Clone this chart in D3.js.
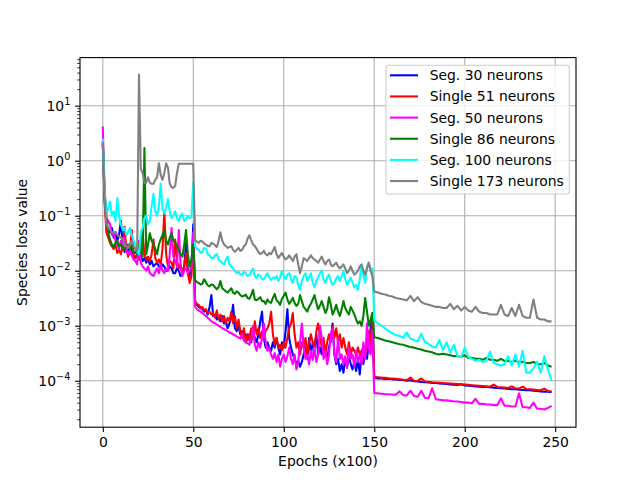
<!DOCTYPE html>
<html>
<head>
<meta charset="utf-8">
<script src="https://cdnjs.cloudflare.com/ajax/libs/d3/7.8.5/d3.min.js"></script>
<style>
  body { margin: 0; background: #fff; }
  svg { font-family: 'DejaVu Sans', sans-serif; }
</style>
</head>
<body>
<svg id="chart" width="640" height="480"></svg>
<script>

// epochs (x100): every epoch up to 149, every second one afterwards
const epochs = [
  0, 1, 2, 3, 4, 5, 6, 7, 8, 9, 10, 11, 12, 13, 14, 15, 16, 17, 18, 19,
  20, 21, 22, 23, 24, 25, 26, 27, 28, 29, 30, 31, 32, 33, 34, 35, 36, 37, 38, 39,
  40, 41, 42, 43, 44, 45, 46, 47, 48, 49, 50,
  51, 52, 53, 54, 55, 56, 57, 58, 59, 60, 61, 62, 63, 64, 65, 66, 67, 68, 69, 70,
  71, 72, 73, 74, 75, 76, 77, 78, 79, 80, 81, 82, 83, 84, 85, 86, 87, 88, 89, 90,
  91, 92, 93, 94, 95, 96, 97, 98, 99, 100, 101, 102, 103, 104, 105, 106, 107, 108, 109, 110,
  111, 112, 113, 114, 115, 116, 117, 118, 119, 120, 121, 122, 123, 124, 125, 126, 127, 128, 129, 130,
  131, 132, 133, 134, 135, 136, 137, 138, 139, 140, 141, 142, 143, 144, 145, 146, 147, 148, 149,
  150, 152, 154, 156, 158, 160, 162, 164, 166, 168, 170, 172, 174, 176, 178, 180, 182, 184, 186, 188,
  190, 192, 194, 196, 198, 200, 202, 204, 206, 208, 210, 212, 214, 216, 218, 220, 222, 224, 226, 228,
  230, 232, 234, 236, 238, 240, 242, 244, 246, 248
];

const seg30 = [
  2.0, 0.2, 0.07, 0.055, 0.05, 0.06, 0.04, 0.05, 0.035, 0.045,
  0.08, 0.03, 0.022, 0.025, 0.02, 0.03, 0.024, 0.019, 0.017, 0.02,
  0.016, 0.018, 0.015, 0.017, 0.014, 0.016, 0.013, 0.015, 0.012, 0.013,
  0.014, 0.012, 0.011, 0.013, 0.012, 0.01, 0.01, 0.012, 0.011, 0.009,
  0.009, 0.011, 0.01, 0.008, 0.009, 0.012, 0.032, 0.01, 0.008, 0.012,
  0.07,
  2.6e-3, 2.4e-3, 2.2e-3, 2.1e-3, 2.0e-3, 1.8e-3, 1.9e-3, 1.6e-3, 2.2e-3, 3.6e-3,
  1.5e-3, 1.6e-3, 1.3e-3, 1.4e-3, 1.2e-3, 1.5e-3, 1.1e-3, 1.2e-3, 9e-4, 1.1e-3,
  1.4e-3, 2.4e-3, 9e-4, 8e-4, 1.0e-3, 7e-4, 8e-4, 6e-4, 7e-4, 5.5e-4,
  7e-4, 5e-4, 8e-4, 6e-4, 5e-4, 7e-4, 1.2e-3, 1.8e-3, 6e-4, 4e-4,
  5e-4, 4e-4, 3.5e-4, 5e-4, 4e-4, 6e-4, 4e-4, 3e-4, 5e-4, 4e-4,
  8e-4, 2.0e-3, 6e-4, 4e-4, 3e-4, 2.5e-4, 2.0e-4, 2.3e-4, 1.8e-4, 2.2e-4,
  3e-4, 4e-4, 2.5e-4, 6e-4, 3e-4, 5e-4, 4e-4, 7e-4, 3e-4, 4e-4,
  3e-4, 5e-4, 3e-4, 2.5e-4, 4e-4, 6e-4, 1.1e-3, 3e-4, 2e-4, 2.5e-4,
  1.5e-4, 2e-4, 1.4e-4, 2.5e-4, 1.8e-4, 3e-4, 2e-4, 1.6e-4, 2.2e-4, 1.5e-4,
  2.5e-4, 1.3e-4, 3e-4, 2e-4, 3.5e-4, 2.5e-4, 5e-4, 9e-4, 1.7e-3,
  1.12e-4, 1.1e-4, 1.1e-4, 1.08e-4, 1.09e-4, 1.06e-4, 1.05e-4, 1.03e-4, 1.04e-4, 1.0e-4,
  1.02e-4, 9.8e-5, 9.7e-5, 9.5e-5, 9.4e-5, 9.3e-5, 9.1e-5, 9.1e-5, 8.9e-5, 8.8e-5,
  8.7e-5, 8.6e-5, 8.5e-5, 8.4e-5, 8.6e-5, 8.2e-5, 8.1e-5, 8.0e-5, 7.9e-5, 7.8e-5,
  7.7e-5, 7.7e-5, 7.6e-5, 7.5e-5, 7.4e-5, 7.3e-5, 7.2e-5, 7.1e-5, 7.0e-5, 7.0e-5,
  6.9e-5, 6.8e-5, 6.7e-5, 6.7e-5, 6.6e-5, 6.5e-5, 6.4e-5, 6.3e-5, 6.3e-5, 6.2e-5
];

const single51 = [
  2.0, 0.18, 0.05, 0.04, 0.032, 0.028, 0.025, 0.03, 0.021, 0.024,
  0.02, 0.028, 0.063, 0.025, 0.018, 0.022, 0.055, 0.02, 0.017, 0.019,
  0.016, 0.022, 0.048, 0.02, 0.016, 0.018, 0.015, 0.02, 0.037, 0.017,
  0.014, 0.016, 0.013, 0.025, 0.12, 0.02, 0.012, 0.015, 0.014, 0.011,
  0.037, 0.015, 0.011, 0.013, 0.009, 0.012, 0.021, 0.009, 0.006, 0.008,
  0.04,
  2.8e-3, 2.5e-3, 2.4e-3, 2.1e-3, 2.2e-3, 1.9e-3, 2.0e-3, 1.7e-3, 1.8e-3, 1.6e-3,
  1.7e-3, 1.4e-3, 1.9e-3, 1.3e-3, 1.6e-3, 1.2e-3, 1.5e-3, 1.1e-3, 1.4e-3, 1.2e-3,
  1.8e-3, 1.1e-3, 1.5e-3, 9e-4, 1.3e-3, 8e-4, 6e-4, 9e-4, 5e-4, 7e-4,
  5.5e-4, 9e-4, 6e-4, 1.2e-3, 7e-4, 9e-4, 6e-4, 8e-4, 6e-4, 8e-4,
  9e-4, 1.1e-3, 1.8e-3, 7e-4, 4.5e-4, 6e-4, 4e-4, 4.5e-4, 3.6e-4, 5e-4,
  4e-4, 6e-4, 9e-4, 1.1e-3, 1.7e-3, 7e-4, 4e-4, 5e-4, 3e-4, 5e-4,
  4e-4, 6e-4, 3e-4, 5e-4, 7e-4, 5e-4, 4e-4, 8e-4, 1.1e-3, 6e-4,
  4e-4, 6e-4, 3e-4, 5e-4, 7e-4, 5e-4, 1.0e-3, 6e-4, 9e-4, 5e-4,
  7e-4, 4e-4, 6e-4, 4e-4, 3e-4, 5e-4, 3e-4, 4e-4, 3.5e-4, 3e-4,
  4e-4, 3e-4, 3.5e-4, 4e-4, 3e-4, 5e-4, 8e-4, 4e-4, 1.6e-3,
  1.18e-4, 1.16e-4, 1.14e-4, 1.13e-4, 1.11e-4, 1.1e-4, 1.08e-4, 1.06e-4, 1.04e-4, 1.03e-4,
  1.14e-4, 1.0e-4, 9.9e-5, 1.1e-4, 9.7e-5, 9.6e-5, 9.4e-5, 9.3e-5, 9.2e-5, 9.1e-5,
  9.0e-5, 8.9e-5, 8.8e-5, 8.7e-5, 8.6e-5, 8.5e-5, 8.4e-5, 8.3e-5, 8.2e-5, 8.1e-5,
  8.0e-5, 7.9e-5, 7.8e-5, 8.5e-5, 7.7e-5, 7.6e-5, 7.5e-5, 7.4e-5, 7.9e-5, 7.3e-5,
  7.2e-5, 7.8e-5, 7.1e-5, 7.0e-5, 6.9e-5, 6.8e-5, 6.7e-5, 7.2e-5, 6.5e-5, 6.4e-5
];

const seg50 = [
  4.2, 0.3, 0.09, 0.08, 0.07, 0.045, 0.05, 0.035, 0.03, 0.025,
  0.035, 0.028, 0.04, 0.022, 0.02, 0.024, 0.019, 0.016, 0.015, 0.013,
  0.035, 0.014, 0.012, 0.011, 0.01, 0.012, 0.009, 0.0085, 0.008, 0.0095,
  0.011, 0.009, 0.013, 0.01, 0.009, 0.011, 0.01, 0.02, 0.06, 0.018,
  0.015, 0.012, 0.055, 0.012, 0.008, 0.01, 0.011, 0.009, 0.01, 0.012,
  0.05,
  2.2e-3, 2.0e-3, 1.9e-3, 1.8e-3, 1.7e-3, 1.6e-3, 1.5e-3, 1.4e-3, 1.3e-3, 1.2e-3,
  1.15e-3, 1.1e-3, 1.05e-3, 1.0e-3, 9.5e-4, 9e-4, 8.7e-4, 8.3e-4, 8e-4, 7.6e-4,
  7.3e-4, 7e-4, 6.7e-4, 6.4e-4, 6.1e-4, 5.8e-4, 7e-4, 5.3e-4, 5e-4, 4.8e-4,
  4.5e-4, 6e-4, 1.0e-3, 4.5e-4, 3.5e-4, 5e-4, 4e-4, 6e-4, 1.1e-3, 5e-4,
  3.5e-4, 4e-4, 3e-4, 2.5e-4, 3.2e-4, 2.2e-4, 3e-4, 1.8e-4, 2.5e-4, 3e-4,
  2.2e-4, 2.8e-4, 4e-4, 2.5e-4, 2e-4, 3e-4, 1.6e-4, 2.2e-4, 5e-4, 1.1e-3,
  4e-4, 2.5e-4, 3e-4, 2e-4, 3.5e-4, 2.4e-4, 4e-4, 2.2e-4, 3e-4, 1.0e-3,
  6e-4, 2.5e-4, 3.5e-4, 2e-4, 3e-4, 7e-4, 9e-4, 3e-4, 2.2e-4, 6e-4,
  2.5e-4, 3e-4, 2e-4, 2.8e-4, 1.7e-4, 4e-4, 2.5e-4, 3e-4, 1.8e-4, 3.5e-4,
  2.2e-4, 3e-4, 2e-4, 5e-4, 2.5e-4, 1.1e-3, 4e-4, 3e-4, 8e-4,
  6.0e-5, 5.9e-5, 5.8e-5, 5.7e-5, 5.7e-5, 5.6e-5, 5.6e-5, 6.4e-5, 5.5e-5, 5.4e-5,
  6.6e-5, 5.3e-5, 5.1e-5, 6.6e-5, 4.9e-5, 4.8e-5, 7.3e-5, 4.6e-5, 4.5e-5, 4.4e-5,
  4.4e-5, 4.3e-5, 4.2e-5, 4.2e-5, 4.1e-5, 4.0e-5, 4.0e-5, 3.9e-5, 4.7e-5, 3.8e-5,
  3.8e-5, 3.7e-5, 3.7e-5, 3.6e-5, 3.6e-5, 4.8e-5, 3.5e-5, 3.5e-5, 3.4e-5, 3.4e-5,
  5.9e-5, 3.3e-5, 3.3e-5, 3.2e-5, 4.0e-5, 3.1e-5, 3.1e-5, 3.0e-5, 3.2e-5, 3.5e-5
];

const single86 = [
  2.3, 0.25, 0.09, 0.05, 0.037, 0.03, 0.027, 0.032, 0.035, 0.028,
  0.03, 0.026, 0.024, 0.028, 0.03, 0.025, 0.028, 0.022, 0.021, 0.025,
  0.031, 0.022, 0.018, 1.7, 0.02, 0.03, 0.048, 0.035, 0.03, 0.025,
  0.02, 0.03, 0.037, 0.045, 0.055, 0.035, 0.03, 0.04, 0.048, 0.035,
  0.033, 0.028, 0.024, 0.02, 0.018, 0.03, 0.055, 0.02, 0.012, 0.016,
  0.03,
  6.8e-3, 6.2e-3, 6.0e-3, 5.6e-3, 5.8e-3, 7.0e-3, 6.2e-3, 5.4e-3, 5.2e-3, 5.6e-3,
  5.5e-3, 5.0e-3, 4.6e-3, 5.0e-3, 6.5e-3, 4.8e-3, 4.5e-3, 4.2e-3, 4.0e-3, 4.4e-3,
  4.8e-3, 4.0e-3, 3.8e-3, 4.2e-3, 4.0e-3, 3.6e-3, 3.4e-3, 3.5e-3, 3.7e-3, 3.2e-3,
  3.1e-3, 3.6e-3, 4.5e-3, 3.0e-3, 2.9e-3, 3.1e-3, 3.3e-3, 2.8e-3, 2.8e-3, 2.5e-3,
  3.0e-3, 2.7e-3, 2.6e-3, 3.2e-3, 3.8e-3, 2.9e-3, 2.7e-3, 2.4e-3, 3.1e-3, 3.5e-3,
  4.0e-3, 3.0e-3, 2.5e-3, 2.8e-3, 3.2e-3, 2.6e-3, 2.3e-3, 2.5e-3, 3.6e-3, 2.8e-3,
  2.2e-3, 2.0e-3, 1.8e-3, 2.2e-3, 2.5e-3, 3.0e-3, 3.6e-3, 2.6e-3, 2.0e-3, 2.3e-3,
  2.8e-3, 2.2e-3, 1.7e-3, 2.0e-3, 3.3e-3, 2.4e-3, 1.6e-3, 1.9e-3, 2.4e-3, 1.8e-3,
  1.5e-3, 2.0e-3, 2.8e-3, 2.1e-3, 1.8e-3, 1.6e-3, 2.2e-3, 1.9e-3, 1.6e-3, 1.3e-3,
  1.1e-3, 1.2e-3, 1.0e-3, 1.5e-3, 3.2e-3, 1.8e-3, 1.0e-3, 1.3e-3, 1.7e-3,
  6.2e-4, 6.0e-4, 5.7e-4, 5.4e-4, 5.2e-4, 5.0e-4, 4.8e-4, 4.6e-4, 4.5e-4, 4.3e-4,
  4.1e-4, 4.0e-4, 3.8e-4, 3.7e-4, 3.5e-4, 3.4e-4, 3.3e-4, 3.1e-4, 3.0e-4, 3.1e-4,
  3.0e-4, 2.9e-4, 2.8e-4, 2.8e-4, 2.7e-4, 2.9e-4, 2.6e-4, 2.6e-4, 2.5e-4, 2.5e-4,
  2.4e-4, 2.6e-4, 2.4e-4, 2.4e-4, 2.3e-4, 2.5e-4, 2.3e-4, 2.3e-4, 2.2e-4, 2.3e-4,
  2.2e-4, 2.2e-4, 2.1e-4, 2.1e-4, 2.2e-4, 2.0e-4, 2.0e-4, 2.1e-4, 1.9e-4, 1.8e-4
];

const seg100 = [
  2.5, 0.3, 0.1, 0.14, 0.18, 0.1, 0.12, 0.08, 0.21, 0.1,
  0.07, 0.055, 0.06, 0.045, 0.05, 0.06, 0.045, 0.035, 0.03, 0.025,
  0.02, 0.05, 0.06, 0.09, 0.1, 0.07, 0.08, 0.15, 0.25, 0.12,
  0.1, 0.15, 0.38, 0.13, 0.11, 0.14, 0.2, 0.12, 0.09, 0.1,
  0.12, 0.09, 0.08, 0.1, 0.11, 0.08, 0.085, 0.1, 0.09, 0.095,
  0.4,
  0.028, 0.025, 0.024, 0.021, 0.022, 0.026, 0.025, 0.02, 0.019, 0.017,
  0.017, 0.019, 0.02, 0.016, 0.015, 0.014, 0.013, 0.016, 0.018, 0.013,
  0.012, 0.011, 0.01, 9e-3, 9.5e-3, 8.5e-3, 8.5e-3, 9.5e-3, 9e-3, 8e-3,
  8.3e-3, 9.5e-3, 0.011, 8e-3, 7.5e-3, 8.5e-3, 8e-3, 7e-3, 7e-3, 8e-3,
  9e-3, 7.5e-3, 6.8e-3, 7.5e-3, 7.2e-3, 8e-3, 6.5e-3, 7.5e-3, 0.01, 8e-3,
  7e-3, 8.5e-3, 9e-3, 7e-3, 6e-3, 8e-3, 7.5e-3, 5.5e-3, 4.5e-3, 6.5e-3,
  8e-3, 9e-3, 6.5e-3, 7.5e-3, 9e-3, 6e-3, 5e-3, 6.5e-3, 7.5e-3, 9e-3,
  0.01, 7e-3, 6e-3, 7.5e-3, 8.5e-3, 6.5e-3, 5.5e-3, 6e-3, 7.2e-3, 8e-3,
  6.5e-3, 8e-3, 0.01, 7e-3, 5.5e-3, 6.5e-3, 7.5e-3, 6e-3, 5e-3, 5.5e-3,
  4.5e-3, 7e-3, 0.013, 8e-3, 6e-3, 0.012, 0.014, 0.01, 0.011,
  1.25e-3, 1.1e-3, 1.0e-3, 9.0e-4, 8.0e-4, 7.3e-4, 6.8e-4, 6.5e-4, 6.0e-4, 7.5e-4,
  5.8e-4, 5.5e-4, 5.2e-4, 7.2e-4, 5.0e-4, 4.7e-4, 4.2e-4, 4.0e-4, 5.5e-4, 3.6e-4,
  5.0e-4, 3.2e-4, 4.5e-4, 2.8e-4, 2.7e-4, 4.0e-4, 2.7e-4, 2.5e-4, 2.3e-4, 2.4e-4,
  2.2e-4, 2.3e-4, 3.4e-4, 2.1e-4, 2.0e-4, 1.9e-4, 2.0e-4, 2.8e-4, 1.9e-4, 3.0e-4,
  1.8e-4, 3.5e-4, 1.4e-4, 1.4e-4, 1.7e-4, 2.2e-4, 1.4e-4, 2.8e-4, 1.6e-4, 1.0e-4
];

const single173 = [
  2.2, 0.2, 0.07, 0.06, 0.055, 0.05, 0.05, 0.048, 0.045, 0.042,
  0.04, 0.038, 0.03, 0.028, 0.026, 0.03, 0.035, 0.028, 0.025, 0.024,
  37, 0.7, 0.6, 0.4, 0.4, 0.5, 0.4, 0.38, 0.38, 0.45,
  0.5, 0.9, 0.55, 0.45, 0.6, 0.9, 0.75, 0.38, 0.33, 0.32,
  0.35, 0.6, 0.88, 0.88, 0.88, 0.88, 0.88, 0.88, 0.88, 0.88,
  0.88,
  0.036, 0.034, 0.032, 0.035, 0.034, 0.031, 0.03, 0.028, 0.028, 0.032,
  0.031, 0.029, 0.027, 0.035, 0.05, 0.035, 0.03, 0.028, 0.026, 0.027,
  0.028, 0.024, 0.022, 0.024, 0.026, 0.023, 0.024, 0.028, 0.03, 0.038,
  0.044, 0.036, 0.03, 0.028, 0.025, 0.022, 0.02, 0.021, 0.023, 0.02,
  0.019, 0.021, 0.02, 0.023, 0.027, 0.02, 0.017, 0.019, 0.021, 0.018,
  0.016, 0.017, 0.019, 0.017, 0.015, 0.018, 0.02, 0.013, 9e-3, 0.012,
  0.017, 0.016, 0.015, 0.017, 0.019, 0.017, 0.016, 0.015, 0.014, 0.016,
  0.018, 0.015, 0.013, 0.015, 0.016, 0.013, 0.012, 0.013, 0.014, 0.012,
  0.011, 0.012, 0.013, 0.011, 9e-3, 0.01, 0.012, 0.01, 8.5e-3, 9e-3,
  0.01, 0.012, 0.013, 0.01, 8.5e-3, 0.011, 0.014, 0.01, 8e-3,
  4.2e-3, 4.0e-3, 3.8e-3, 3.7e-3, 3.5e-3, 3.4e-3, 3.2e-3, 3.1e-3, 3.0e-3, 2.9e-3,
  3.5e-3, 2.8e-3, 3.3e-3, 2.7e-3, 2.5e-3, 2.4e-3, 2.3e-3, 2.2e-3, 2.2e-3, 2.1e-3,
  2.1e-3, 2.5e-3, 2.0e-3, 2.3e-3, 1.9e-3, 2.2e-3, 1.9e-3, 1.8e-3, 2.2e-3, 1.8e-3,
  1.7e-3, 1.7e-3, 1.6e-3, 1.6e-3, 1.6e-3, 2.4e-3, 1.6e-3, 1.5e-3, 2.1e-3, 1.5e-3,
  2.4e-3, 1.5e-3, 1.4e-3, 1.4e-3, 3.0e-3, 1.4e-3, 1.3e-3, 1.3e-3, 1.2e-3, 1.2e-3
];

const seriesLabels = ["Seg. 30 neurons", "Single 51 neurons", "Seg. 50 neurons",
                      "Single 86 neurons", "Seg. 100 neurons", "Single 173 neurons"];
const xTicks = [0, 50, 100, 150, 200, 250];
const yTicks = [1e-4, 1e-3, 1e-2, 1e-1, 1e0, 1e1];

// ---- drawing ----
const allSeries = [seg30, single51, seg50, single86, seg100, single173];
const colors = ["#0000ff", "#ff0000", "#ff00ff", "#008000", "#00ffff", "#808080"];

const plotL = 80, plotR = 576, plotT = 57.6, plotB = 427.2;
const fs = 13.9;

const svg = d3.select("#chart");
svg.append("rect").attr("width", 640).attr("height", 480).attr("fill", "#fff");

const x = d3.scaleLinear().domain([-12.6, 261.5]).range([plotL, plotR]);
const y = d3.scaleLog().domain([1.43e-5, 74.9]).range([plotB, plotT]);

// grid
const grid = svg.append("g").attr("stroke", "#b0b0b0").attr("stroke-width", 1.1);
grid.selectAll("line.gx").data(xTicks).join("line").attr("class", "gx")
  .attr("x1", d => x(d)).attr("x2", d => x(d)).attr("y1", plotT).attr("y2", plotB);
grid.selectAll("line.gy").data(yTicks).join("line").attr("class", "gy")
  .attr("x1", plotL).attr("x2", plotR).attr("y1", d => y(d)).attr("y2", d => y(d));

// lines
svg.append("clipPath").attr("id", "plot-clip")
  .append("rect").attr("x", plotL).attr("y", plotT).attr("width", plotR - plotL).attr("height", plotB - plotT);

const line = d3.line().x(d => x(d[0])).y(d => y(d[1]));
svg.append("g").attr("clip-path", "url(#plot-clip)")
  .selectAll("path").data(allSeries).join("path")
  .attr("d", s => line(s.map((v, i) => [epochs[i], v])))
  .attr("fill", "none")
  .attr("stroke", (s, i) => colors[i])
  .attr("stroke-width", 2.08)
  .attr("stroke-linejoin", "round");

// x axis
const xAxis = svg.append("g").attr("transform", `translate(0,${plotB})`)
  .call(d3.axisBottom(x).tickValues(xTicks).tickSize(4.9).tickPadding(4.9).tickFormat(d3.format("d")));
xAxis.attr("font-size", fs).attr("font-family", "DejaVu Sans");
xAxis.select(".domain").remove();
xAxis.selectAll("line").attr("stroke", "#000").attr("stroke-width", 1.1);
xAxis.selectAll("text").attr("fill", "#000");

// y axis, major and minor ticks
const minors = [];
for (let k = -5; k <= 1; k++) {
  for (let m = 2; m <= 9; m++) {
    const v = m * Math.pow(10, k);
    if (v >= 1.43e-5 && v <= 74.9) minors.push(v);
  }
}
const yMinor = svg.append("g").attr("transform", `translate(${plotL},0)`)
  .call(d3.axisLeft(y).tickValues(minors).tickSize(2.8).tickFormat(""));
yMinor.select(".domain").remove();
yMinor.selectAll("line").attr("stroke", "#000").attr("stroke-width", 0.8);

const yAxis = svg.append("g").attr("transform", `translate(${plotL},0)`)
  .call(d3.axisLeft(y).tickValues(yTicks).tickSize(4.9).tickFormat(""));
yAxis.select(".domain").remove();
yAxis.selectAll("line").attr("stroke", "#000").attr("stroke-width", 1.1);

svg.append("g").selectAll("text").data(yTicks).join("text")
  .attr("x", plotL - 9.7)
  .attr("y", d => y(d) + 5.5)
  .attr("text-anchor", "end")
  .attr("font-size", fs)
  .each(function (d) {
    const e = Math.round(Math.log10(d));
    const t = d3.select(this);
    t.append("tspan").text("10");
    t.append("tspan").attr("dy", -6.5).attr("font-size", 9.7)
      .text(e < 0 ? "\u2212" + (-e) : String(e));
  });

// frame
svg.append("rect").attr("x", plotL).attr("y", plotT)
  .attr("width", plotR - plotL).attr("height", plotB - plotT)
  .attr("fill", "none").attr("stroke", "#000").attr("stroke-width", 1.1);

// axis labels
svg.append("text").attr("x", (plotL + plotR) / 2).attr("y", 466)
  .attr("text-anchor", "middle").attr("font-size", fs).text("Epochs (x100)");
svg.append("text").attr("transform", `translate(27,${(plotT + plotB) / 2}) rotate(-90)`)
  .attr("text-anchor", "middle").attr("font-size", fs).text("Species loss value");

// legend
const legend = svg.append("g");
legend.append("rect")
  .attr("x", 386).attr("y", 65.3).attr("width", 183.3).attr("height", 128.7).attr("rx", 2.8)
  .attr("fill", "#fff").attr("fill-opacity", 0.8)
  .attr("stroke", "#cccccc").attr("stroke-width", 1.1);
const rows = legend.selectAll("g.row").data(seriesLabels).join("g").attr("class", "row")
  .attr("transform", (d, i) => `translate(0,${75.3 + 21.15 * i})`);
rows.append("line").attr("x1", 390).attr("x2", 418)
  .attr("stroke", (d, i) => colors[i]).attr("stroke-width", 2.08);
rows.append("text").attr("x", 429.7).attr("y", 5).attr("font-size", fs).text(d => d);

</script>
</body>
</html>
